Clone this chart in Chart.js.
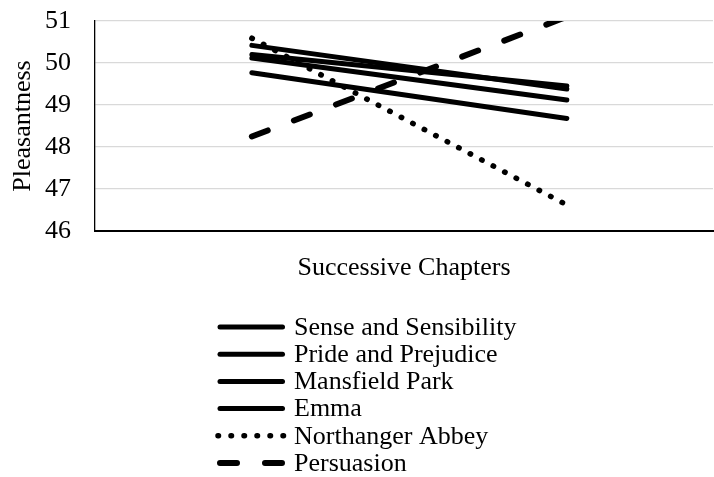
<!DOCTYPE html>
<html>
<head>
<meta charset="utf-8">
<script src="https://cdn.jsdelivr.net/npm/chart.js@4/dist/chart.umd.min.js"></script>
<style>
  html, body { margin: 0; padding: 0; background: #fff; }
  #wrap { width: 714px; height: 477px; }
</style>
</head>
<body>
<div id="wrap"><canvas id="chart" width="714" height="477"></canvas></div>
<script>
// chapter positions (start and end of each novel's trend)
const chapters = [1, 2];

const novels = ["Sense and Sensibility", "Pride and Prejudice", "Mansfield Park", "Emma", "Northanger Abbey", "Persuasion"];
const senseValues = [50.42, 49.38];
const prideValues = [50.20, 49.45];
const mansfieldValues = [50.12, 49.12];
const emmaValues = [49.77, 48.68];
const northangerValues = [50.59, 46.62];
const persuasionValues = [48.25, 51.1];

const yTicks = [46, 47, 48, 49, 50, 51];

const seriesValues = [senseValues, prideValues, mansfieldValues, emmaValues, northangerValues, persuasionValues];
const styles = [
  { borderWidth: 5, borderDash: [] },
  { borderWidth: 5, borderDash: [] },
  { borderWidth: 5, borderDash: [] },
  { borderWidth: 5, borderDash: [] },
  { borderWidth: 5.5, borderDash: [0.5, 12.5] },
  { borderWidth: 6, borderDash: [17, 28] }
];

const serif = "'Liberation Serif', 'Times New Roman', serif";

const datasets = novels.map((name, i) => ({
  label: name,
  data: chapters.map((c, j) => ({ x: c, y: seriesValues[i][j] })),
  borderColor: '#000',
  backgroundColor: '#000',
  borderWidth: styles[i].borderWidth,
  borderDash: styles[i].borderDash,
  borderCapStyle: 'round',
  pointRadius: 0,
  fill: false,
  tension: 0,
  clip: 0
}));

// legend stacked one per row, like the original
const stackedLegend = {
  id: 'stackedLegend',
  afterDraw(chart) {
    const ctx = chart.ctx;
    ctx.save();
    ctx.font = '26px ' + serif;
    ctx.fillStyle = '#000';
    ctx.textBaseline = 'middle';
    ctx.textAlign = 'left';
    chart.data.datasets.forEach((ds, i) => {
      const y = 327 + i * 27.2;
      const dotted = ds.borderDash.length && ds.borderDash[0] < 1;
      ctx.beginPath();
      ctx.strokeStyle = '#000';
      ctx.lineWidth = ds.borderWidth;
      ctx.lineCap = 'round';
      ctx.setLineDash(ds.borderDash || []);
      ctx.moveTo(dotted ? 218 : 220, y);
      ctx.lineTo(dotted ? 284 : 282.5, y);
      ctx.stroke();
      ctx.setLineDash([]);
      ctx.fillText(ds.label, 294, y + 1);
    });
    ctx.restore();
  }
};

new Chart(document.getElementById('chart'), {
  type: 'line',
  data: { datasets: datasets },
  options: {
    responsive: false,
    animation: false,
    layout: { padding: { top: 21, right: 1, bottom: 187, left: 0 } },
    plugins: {
      legend: { display: false },
      tooltip: { enabled: false }
    },
    scales: {
      x: {
        type: 'linear',
        min: 0.502,
        max: 2.464,
        ticks: { display: false },
        grid: { display: false, drawTicks: false },
        border: { display: true, color: '#000', width: 2 },
        title: {
          display: true,
          text: 'Successive Chapters',
          color: '#000',
          font: { family: serif, size: 26 },
          padding: { top: 0, bottom: 6 }
        },
        afterFit: (s) => { s.height = 59; s.paddingLeft = 0; s.paddingRight = 0; }
      },
      y: {
        min: 46,
        max: 51,
        afterBuildTicks: (s) => { s.ticks = yTicks.map(v => ({ value: v })); },
        ticks: {
          color: '#000',
          font: { family: serif, size: 26 },
          padding: 24
        },
        grid: { color: '#d9d9d9', lineWidth: 1.3, drawTicks: false },
        border: { display: true, color: '#000', width: 1.3 },
        title: {
          display: true,
          text: 'Pleasantness',
          color: '#000',
          font: { family: serif, size: 26 },
          padding: { top: 8, bottom: 0 }
        },
        afterFit: (s) => { s.width = 95; s.paddingTop = 0; s.paddingBottom = 0; }
      }
    }
  },
  plugins: [stackedLegend]
});
</script>
</body>
</html>
